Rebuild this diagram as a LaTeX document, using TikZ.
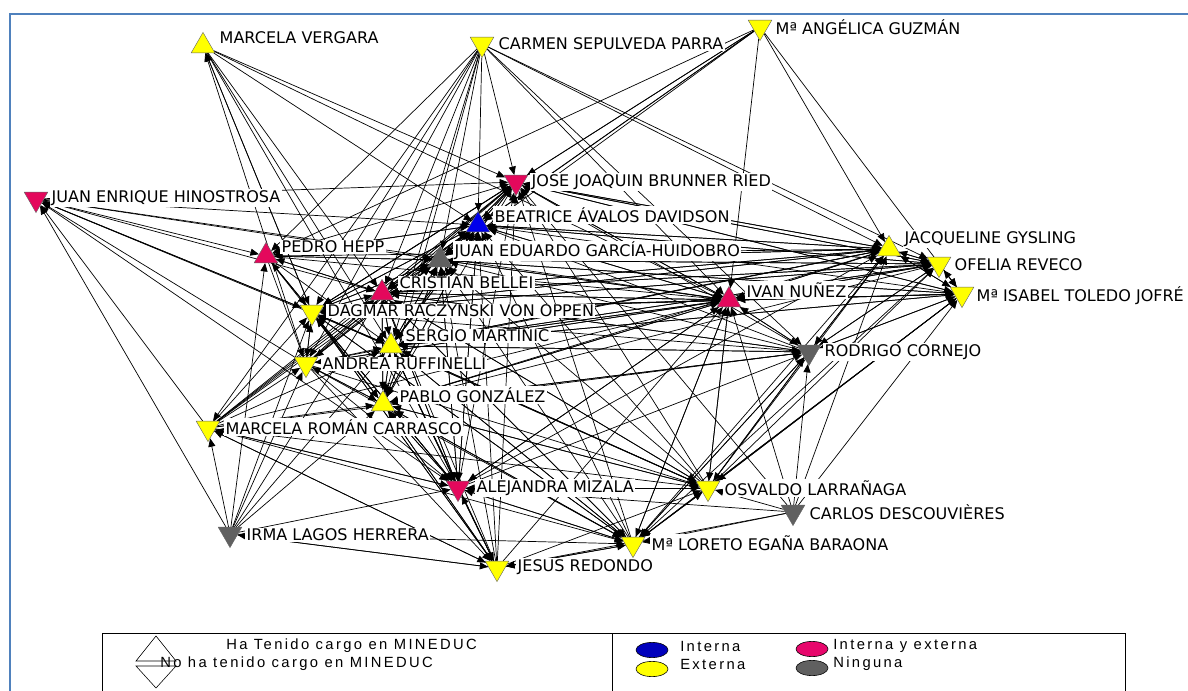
\documentclass[tikz,border=0pt]{standalone}
\usepackage{fontspec}
\setmainfont{DejaVu Sans}
\newfontfamily\leyendafont[LetterSpace=16]{Liberation Sans}
\usetikzlibrary{shapes.geometric,arrows.meta,backgrounds}
\definecolor{amarillo}{RGB}{255,255,0}
\definecolor{rosa}{RGB}{228,8,92}
\definecolor{azul}{RGB}{0,0,235}
\definecolor{gris}{RGB}{96,96,96}
\definecolor{marco}{RGB}{79,129,189}

\begin{document}
\begin{tikzpicture}[x=0.025cm,y=-0.025cm,
  tri/.style={regular polygon,regular polygon sides=3,minimum size=0.68cm,
    inner sep=0pt,draw=black!60,line width=0.3pt},
  cargo/.style={tri},
  sincargo/.style={tri,shape border rotate=180},
  rotulo/.style={anchor=west,fill=white,inner sep=1pt,
    font=\fontsize{11.4}{13}\selectfont},
  enlace/.style={-{Triangle[length=6pt,width=5pt]},line width=0.5pt},
  leyenda/.style={anchor=west,inner sep=0pt,font=\leyendafont\fontsize{10.5}{11}\selectfont},
  bola/.style={ellipse,draw=black,line width=0.4pt,minimum width=0.8cm,minimum height=0.38cm}]
\useasboundingbox (0,0) rectangle (1188,690);

% marco
\draw[marco,line width=2pt] (10,692) -- (10,14) -- (1190,14);

% actores (triangulo arriba: ha tenido cargo en MINEDUC)
\node[cargo,fill=amarillo]    (mv)  at (203,46)  {};
\node[sincargo,fill=amarillo] (csp) at (482,44)  {};
\node[sincargo,fill=amarillo] (mag) at (760,27)  {};
\node[sincargo,fill=rosa]     (jeh) at (36,199)  {};
\node[sincargo,fill=rosa]     (jjb) at (516,182) {};
\node[cargo,fill=azul]        (bad) at (478,225) {};
\node[cargo,fill=gris]        (jeg) at (440,260) {};
\node[cargo,fill=rosa]        (ph)  at (266,256) {};
\node[cargo,fill=rosa]        (cb)  at (382,293) {};
\node[sincargo,fill=amarillo] (drv) at (312,312) {};
\node[cargo,fill=amarillo]    (sm)  at (391,346) {};
\node[sincargo,fill=amarillo] (ar)  at (306,364) {};
\node[cargo,fill=amarillo]    (pg)  at (383,404) {};
\node[sincargo,fill=amarillo] (mrc) at (208,428) {};
\node[sincargo,fill=gris]     (ilh) at (230,534) {};
\node[sincargo,fill=rosa]     (am)  at (458,488) {};
\node[sincargo,fill=amarillo] (jr)  at (497,568) {};
\node[sincargo,fill=amarillo] (leb) at (633,544) {};
\node[sincargo,fill=amarillo] (ol)  at (708,488) {};
\node[sincargo,fill=gris]     (cd)  at (793,512) {};
\node[sincargo,fill=gris]     (rc)  at (809,352) {};
\node[cargo,fill=rosa]        (in)  at (729,300) {};
\node[cargo,fill=amarillo]    (jg)  at (889,249) {};
\node[sincargo,fill=amarillo] (or)  at (939,264) {};
\node[sincargo,fill=amarillo] (itj) at (962,294) {};

% nombres
\node[rotulo] (mvt)  at (218,38)  {MARCELA VERGARA};
\node[rotulo] (cspt) at (497,44)  {CARMEN SEPULVEDA PARRA};
\node[rotulo] (magt) at (774,27)  {Mª ANGÉLICA GUZMÁN};
\node[rotulo] (jeht) at (50,198)  {JUAN ENRIQUE HINOSTROSA};
\node[rotulo] (jjbt) at (530,182) {JOSE JOAQUIN BRUNNER RIED};
\node[rotulo] (badt) at (493,215) {BEATRICE ÁVALOS DAVIDSON};
\node[rotulo] (jegt) at (453,251) {JUAN EDUARDO GARCÍA-HUIDOBRO};
\node[rotulo] (pht)  at (280,247) {PEDRO HEPP};
\node[rotulo] (cbt)  at (398,283) {CRISTIAN BELLEI};
\node[rotulo] (drvt) at (326,311) {DAGMAR RACZYNSKI VON OPPEN};
\node[rotulo] (smt)  at (404,336) {SERGIO MARTINIC};
\node[rotulo] (art)  at (321,364) {ANDREA RUFFINELLI};
\node[rotulo] (pgt)  at (398,395) {PABLO GONZÁLEZ};
\node[rotulo] (mrct) at (224,427) {MARCELA ROMÁN CARRASCO};
\node[rotulo] (ilht) at (245,535) {IRMA LAGOS HERRERA};
\node[rotulo] (amt)  at (475,488) {ALEJANDRA MIZALA};
\node[rotulo] (jrt)  at (516,567) {JESUS REDONDO};
\node[rotulo] (lebt) at (650,543) {Mª LORETO EGAÑA BARAONA};
\node[rotulo] (olt)  at (723,488) {OSVALDO LARRAÑAGA};
\node[rotulo] (cdt)  at (808,512) {CARLOS DESCOUVIÈRES};
\node[rotulo] (rct)  at (823,352) {RODRIGO CORNEJO};
\node[rotulo] (int)  at (745,290) {IVAN NUÑEZ};
\node[rotulo] (jgt)  at (903,239) {JACQUELINE GYSLING};
\node[rotulo] (ort)  at (953,265) {OFELIA REVECO};
\node[rotulo] (itjt) at (975,296) {Mª ISABEL TOLEDO JOFRÉ};

% relaciones
\begin{scope}[on background layer]
\foreach \a/\b in {jeh/ph,jeh/jjb,jeh/bad,jeh/jeg,jeh/cb,jeh/drv,jeh/sm,jeh/in,jeh/am,
  mv/jjb,mv/bad,mv/cb,mv/drv,mv/sm,mv/in,mv/am,
  csp/jjb,csp/bad,csp/jeg,csp/cb,csp/drv,csp/ph,csp/ar,csp/mrc,csp/sm,csp/jg,csp/rc,csp/or,csp/in,csp/pg,
  mag/in,mag/jg,mag/jjb,mag/bad,mag/jeg,mag/cb,mag/drv,mag/itj,mag/ph,
  ph/jjb,ph/bad,ph/jeg,ph/cb,ph/drv,ph/sm,ph/ar,ph/in,ph/jg,ph/pg,ph/am,
  cb/jjb,cb/bad,cb/jeg,cb/drv,cb/sm,cb/in,cb/jg,cb/or,cb/am,cb/pg,cb/ol,cb/leb,cb/rc,cb/ph,
  drv/jjb,drv/bad,drv/jeg,drv/cb,drv/sm,drv/ar,drv/pg,drv/in,drv/jg,drv/or,drv/itj,drv/am,
  drv/jr,drv/leb,drv/ol,drv/ph,drv/jeh,drv/mv,
  sm/jjb,sm/bad,sm/jeg,sm/cb,sm/drv,sm/pg,sm/in,sm/jg,sm/or,sm/itj,sm/rc,sm/am,sm/ol,sm/leb,sm/jr,
  ar/jjb,ar/bad,ar/jeg,ar/cb,ar/drv,ar/sm,ar/pg,ar/in,ar/jg,ar/am,ar/jr,ar/leb,ar/ol,ar/jeh,ar/mv,
  pg/jjb,pg/bad,pg/jeg,pg/cb,pg/drv,pg/sm,pg/ar,pg/in,pg/jg,pg/or,pg/am,pg/jr,pg/leb,pg/ol,pg/rc,
  mrc/jeh,mrc/jjb,mrc/bad,mrc/jeg,mrc/cb,mrc/drv,mrc/sm,mrc/ar,mrc/pg,mrc/in,mrc/am,mrc/jr,
  mrc/leb,mrc/ol,mrc/rc,
  ilh/jeh,ilh/mrc,ilh/ph,ilh/drv,ilh/ar,ilh/sm,ilh/pg,ilh/am,ilh/jr,ilh/leb,ilh/cb,
  am/jjb,am/bad,am/jeg,am/cb,am/drv,am/sm,am/pg,am/in,am/jg,am/jr,am/leb,am/ol,am/rc,am/mrc,
  jr/jjb,jr/bad,jr/jeg,jr/cb,jr/drv,jr/sm,jr/pg,jr/am,jr/in,jr/leb,jr/ol,jr/mrc,jr/ilh,
  leb/jjb,leb/bad,leb/jeg,leb/cb,leb/drv,leb/sm,leb/pg,leb/am,leb/in,leb/jr,leb/ol,leb/rc,leb/jg,leb/itj,
  ol/jjb,ol/bad,ol/jeg,ol/in,ol/cb,ol/drv,ol/sm,ol/pg,ol/leb,ol/rc,ol/jg,ol/or,ol/itj,ol/am,
  cd/ol,cd/leb,cd/in,cd/rc,cd/jg,cd/itj,cd/am,cd/jr,cd/jjb,
  rc/in,rc/jg,rc/or,rc/itj,rc/jjb,rc/bad,rc/jeg,rc/cb,rc/drv,rc/sm,rc/pg,rc/ol,rc/leb,
  in/jjb,in/bad,in/jeg,in/cb,in/drv,in/sm,in/jg,in/or,in/itj,in/rc,in/ol,in/leb,in/am,in/pg,in/ar,
  jg/in,jg/jjb,jg/bad,jg/jeg,jg/or,jg/itj,jg/cb,jg/drv,jg/sm,jg/rc,
  or/jg,or/itj,or/in,or/jjb,or/bad,or/jeg,or/cb,or/drv,or/sm,or/rc,or/leb,
  itj/jg,itj/or,itj/in,itj/rc,itj/jjb,itj/bad,itj/jeg,itj/drv,itj/sm,itj/leb,itj/ol,
  jjb/bad,jjb/jeg,jjb/in,jjb/cb,jjb/drv,jjb/jg,jjb/or,jjb/itj,jjb/sm,
  bad/jjb,bad/jeg,bad/in,bad/cb,bad/drv,bad/sm,bad/jg,bad/or,bad/pg,bad/am,bad/ph,
  jeg/jjb,jeg/bad,jeg/in,jeg/cb,jeg/drv,jeg/sm,jeg/jg,jeg/or,jeg/itj,jeg/pg,jeg/am,jeg/ar,jeg/ph}
  \draw[enlace] (\a) -- (\b);
\end{scope}

% leyenda
\draw[line width=0.6pt] (102,692) -- (102,633) -- (1125,633) -- (1125,692);
\draw[line width=0.6pt] (612,633) -- (612,692);
\node[leyenda] (ha) at (226,646) {Ha Tenido cargo en MINEDUC};
\node[leyenda] (noha) at (160,664) {No ha tenido cargo en MINEDUC};
\draw[line width=0.4pt] (156,636) -- (136,661) -- (176,661) -- cycle;
\draw[line width=0.4pt] (136,666) -- (176,666) -- (156,688) -- cycle;
\node[bola,fill=azul!80!black] (bint) at (652,650) {};
\node[bola,fill=amarillo] (bext) at (652,669) {};
\node[bola,fill=rosa!90!magenta] (bie) at (812,649) {};
\node[bola,fill=gris] (bnin) at (812,668) {};
\node[leyenda] (tint) at (680,646) {Interna};
\node[leyenda] (text) at (680,664) {Externa};
\node[leyenda] (tie) at (833,646) {Interna y externa};
\node[leyenda] (tnin) at (833,664) {Ninguna};
\end{tikzpicture}
\end{document}
